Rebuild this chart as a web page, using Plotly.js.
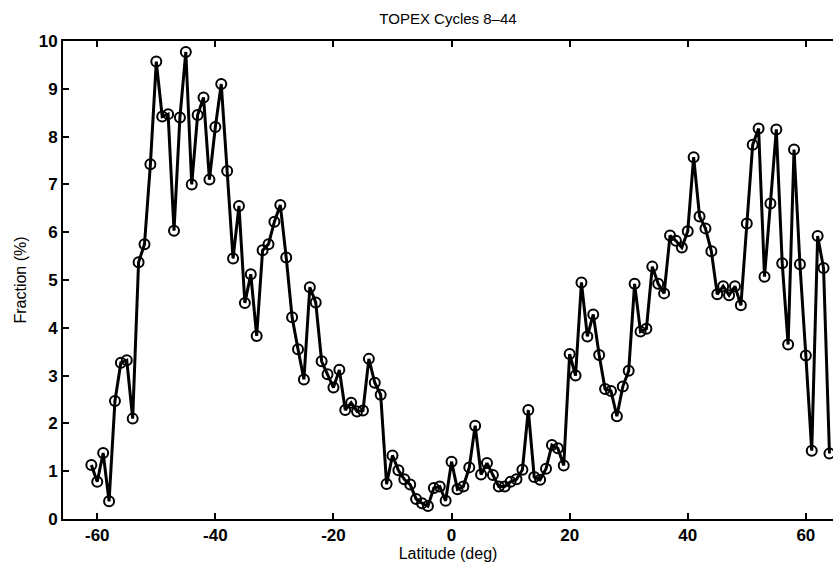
<!DOCTYPE html>
<html>
<head>
<meta charset="utf-8">
<script src="https://cdn.plot.ly/plotly-3.0.1.min.js"></script>
<style>
html,body{margin:0;padding:0;overflow:hidden;background:#fff;}
#chart{width:833px;height:575px;}
</style>
</head>
<body>
<div id="chart"></div>
<script>
// Latitude (deg), one value per degree from -61 to 64
const latitude = [
 -61,-60,-59,-58,-57,-56,-55,-54,-53,-52,-51,-50,-49,-48,-47,-46,-45,-44,-43,-42,
 -41,-40,-39,-38,-37,-36,-35,-34,-33,-32,-31,-30,-29,-28,-27,-26,-25,-24,-23,-22,
 -21,-20,-19,-18,-17,-16,-15,-14,-13,-12,-11,-10,-9,-8,-7,-6,-5,-4,-3,-2,
 -1,0,1,2,3,4,5,6,7,8,9,10,11,12,13,14,15,16,17,18,
 19,20,21,22,23,24,25,26,27,28,29,30,31,32,33,34,35,36,37,38,
 39,40,41,42,43,44,45,46,47,48,49,50,51,52,53,54,55,56,57,58,
 59,60,61,62,63,64
];
// Fraction (%)
const fraction = [
 1.13,0.78,1.38,0.37,2.47,3.27,3.32,2.10,5.37,5.75,7.42,9.57,8.42,8.47,6.03,8.40,9.77,7.00,8.45,8.82,
 7.10,8.20,9.10,7.28,5.45,6.55,4.52,5.12,3.83,5.62,5.75,6.22,6.57,5.47,4.22,3.55,2.92,4.85,4.53,3.30,
 3.03,2.75,3.12,2.28,2.43,2.25,2.27,3.35,2.85,2.60,0.73,1.33,1.02,0.83,0.72,0.42,0.33,0.27,0.65,0.68,
 0.38,1.20,0.62,0.68,1.08,1.95,0.93,1.17,0.92,0.68,0.68,0.78,0.83,1.03,2.28,0.88,0.82,1.05,1.55,1.48,
 1.12,3.45,3.00,4.95,3.82,4.28,3.43,2.72,2.68,2.15,2.77,3.10,4.92,3.92,3.98,5.28,4.92,4.72,5.93,5.82,
 5.68,6.02,7.57,6.33,6.08,5.60,4.70,4.87,4.68,4.87,4.47,6.18,7.83,8.17,5.07,6.60,8.15,5.35,3.65,7.73,
 5.33,3.42,1.43,5.92,5.25,1.37
];
const xTicks = [-60,-40,-20,0,20,40,60];
const yTicks = [0,1,2,3,4,5,6,7,8,9,10];

const trace = {
  x: latitude, y: fraction, type: 'scatter', mode: 'lines+markers',
  line: {color: '#000', width: 3},
  marker: {symbol: 'circle-open', size: 10, color: '#000', line: {width: 2, color: '#000'}},
  cliponaxis: false,
  hoverinfo: 'skip'
};

const font = {family: 'Liberation Sans, Arial, sans-serif', color: '#000'};
const layout = {
  width: 833, height: 575,
  margin: {l: 63, r: 0, t: 41, b: 56},
  paper_bgcolor: '#fff', plot_bgcolor: '#fff',
  showlegend: false,
  font: font,
  title: {text: 'TOPEX Cycles 8\u201344', font: {family: font.family, size: 15, color: '#000'},
          x: 0.5, xref: 'paper', y: 0.968, yref: 'container', yanchor: 'middle'},
  xaxis: {
    range: [-65.8, 64.6], tickvals: xTicks, ticktext: xTicks.map(String),
    ticks: 'inside', ticklen: 6, tickwidth: 2, tickcolor: '#000',
    showline: true, linewidth: 2, linecolor: '#000', mirror: 'ticks',
    showgrid: false, zeroline: false,
    tickfont: {family: font.family, size: 17, color: '#000', weight: 'bold'},
    title: {text: 'Latitude (deg)', font: {family: font.family, size: 16, color: '#000'}, standoff: 2}
  },
  yaxis: {
    range: [0, 10], tickvals: yTicks, ticktext: yTicks.map(String),
    ticks: 'inside', ticklen: 6, tickwidth: 2, tickcolor: '#000',
    showline: true, linewidth: 2, linecolor: '#000', mirror: false,
    showgrid: false, zeroline: false,
    tickfont: {family: font.family, size: 17, color: '#000', weight: 'bold'},
    title: {text: 'Fraction (%)', font: {family: font.family, size: 16, color: '#000'}, standoff: 8}
  }
};

Plotly.newPlot('chart', [trace], layout, {staticPlot: true, displayModeBar: false});
</script>
</body>
</html>
